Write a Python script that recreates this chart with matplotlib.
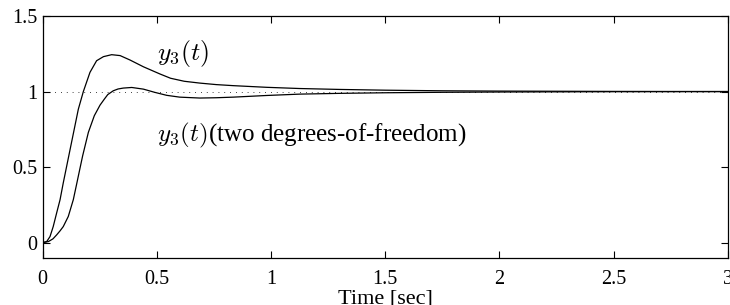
import matplotlib
matplotlib.use("Agg")
import matplotlib.pyplot as plt

plt.rcParams['font.family'] = ['Liberation Serif', 'DejaVu Serif']
plt.rcParams['mathtext.fontset'] = 'cm'

# y3(t) : one degree-of-freedom response
t1 = [0.0, 0.0175, 0.032, 0.046, 0.061, 0.076, 0.09, 0.105, 0.12, 0.138,
      0.156, 0.178, 0.207, 0.236, 0.266, 0.302, 0.339, 0.382, 0.441, 0.514,
      0.56, 0.62, 0.688, 0.76, 0.835, 0.981, 1.126, 1.3, 1.5, 1.75,
      2.0, 2.5, 3.0]
y1 = [0.0, 0.007, 0.04, 0.106, 0.196, 0.284, 0.395, 0.506, 0.617, 0.75,
      0.883, 1.0, 1.127, 1.204, 1.231, 1.244, 1.238, 1.209, 1.164, 1.116,
      1.088, 1.068, 1.056, 1.046, 1.039, 1.028, 1.02, 1.014, 1.009, 1.005,
      1.003, 1.001, 1.0]

# y3(t) : two degrees-of-freedom response
t2 = [0.0, 0.025, 0.045, 0.061, 0.076, 0.09, 0.112, 0.134, 0.149, 0.163,
      0.175, 0.2, 0.226, 0.251, 0.27, 0.285, 0.309, 0.33, 0.353, 0.39,
      0.441, 0.49, 0.543, 0.6, 0.688, 0.76, 0.835, 0.981, 1.126, 1.3,
      1.5, 1.75, 2.0, 2.5, 3.0]
y2 = [0.0, 0.007, 0.025, 0.051, 0.078, 0.106, 0.173, 0.284, 0.39, 0.49,
      0.575, 0.73, 0.84, 0.91, 0.95, 0.98, 1.005, 1.017, 1.023, 1.027,
      1.016, 0.995, 0.975, 0.963, 0.957, 0.959, 0.963, 0.974, 0.983, 0.988,
      0.992, 0.995, 0.997, 0.999, 1.0]

fig = plt.figure(figsize=(7.3, 3.05), dpi=100)
ax = fig.add_axes([0.0585, 0.155, 0.9383, 0.7925])

ax.plot([0, 3], [1, 1], color='black', lw=0.6, linestyle=(0, (1, 6)))
ax.plot(t1, y1, color='black', lw=0.9)
ax.plot(t2, y2, color='black', lw=0.9)

ax.text(0.5, 1.25, r'$y_3(t)$', fontsize=18.5, va='center', ha='left')
ax.text(0.5, 0.71, r'$y_3(t)$(two degrees-of-freedom)', fontsize=18,
        va='center', ha='left')

ax.set_xlim(0, 3)
ax.set_ylim(-0.1, 1.5)
ax.set_xticks([0, 0.5, 1, 1.5, 2, 2.5, 3])
ax.set_xticklabels(['0', '0.5', '1', '1.5', '2', '2.5', '3'])
ax.set_yticks([0, 0.5, 1, 1.5])
ax.set_yticklabels(['0', '0.5', '1', '1.5'])
ax.tick_params(direction='in', length=5, width=0.8, labelsize=14.5,
               top=True, right=True)
ax.tick_params(axis='x', pad=8.5)
ax.tick_params(axis='y', pad=4)
for s in ax.spines.values():
    s.set_linewidth(0.9)
ax.set_xlabel('Time [sec]', fontsize=16, labelpad=0.5)

fig.savefig('out.png', dpi=100)
